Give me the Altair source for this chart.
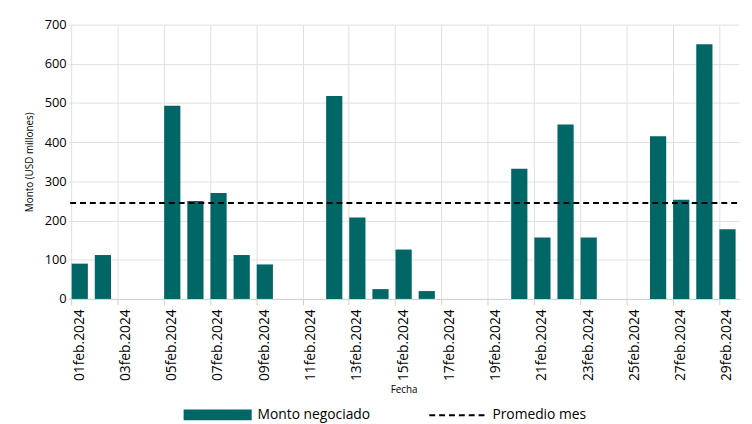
import altair as alt
import pandas as pd

days = [f"{d:02d}feb.2024" for d in range(1, 30)]
monto = [90, 112, 0, 0, 493, 250, 270, 112, 88, 0, 0, 518, 208, 25, 126, 20,
         0, 0, 0, 332, 157, 445, 157, 0, 0, 415, 253, 650, 178]
promedio = 245

df = pd.DataFrame({"Fecha": days, "Monto": monto})
df_prom = pd.DataFrame({"Monto": [promedio]})
font = "Open Sans"
teal = "#006666"

x_sc = alt.Scale(paddingInner=0.3, paddingOuter=0.15)
y_enc = alt.Y("Monto:Q", scale=alt.Scale(domain=[0, 700]),
              title="Monto (USD millones)",
              axis=alt.Axis(values=list(range(0, 701, 100)), labelOverlap=False,
                            gridColor="#e0e0e0",
                            domain=False, ticks=False, labelFontSize=13, labelColor="#000",
                            titleFontSize=10, titleFontWeight="normal", titlePadding=10))

grid = alt.Chart(df).mark_tick(opacity=0).encode(
    x=alt.X("Fecha:N", sort=days, scale=x_sc,
            axis=alt.Axis(orient="bottom", bandPosition=0, labels=False, title=None, grid=True,
                          gridColor="#e0e0e0", tickColor="#d0d0d0", tickSize=6,
                          domainColor="#d0d0d0",
                          values=[d for i, d in enumerate(days) if i % 2 == 0])),
    y=y_enc,
)

bars = alt.Chart(df).mark_bar(color=teal).encode(
    x=alt.X("Fecha:N", sort=days, scale=x_sc, title="Fecha",
            axis=alt.Axis(orient="bottom", labelAngle=-90, ticks=False, grid=False, domain=False,
                          labelExpr="parseInt(substring(datum.value,0,2)) % 2 == 1 ? datum.value : ''",
                          labelFontSize=14, labelColor="#000", labelPadding=10,
                          titleFontSize=10, titleFontWeight="normal", titlePadding=4)),
    y=y_enc,
)

line = alt.Chart(df_prom).mark_rule(color="black", strokeDash=[6, 4], strokeWidth=2).encode(
    x=alt.value(2), x2=alt.value(678),
    y=y_enc,
)

# legend entries
leg = pd.DataFrame({"k": ["Monto negociado", "Promedio mes"]})
leg_bar = alt.Chart(leg).transform_filter("datum.k=='Monto negociado'").mark_rect(color=teal).encode(
    x=alt.value(117), x2=alt.value(186), y=alt.value(390), y2=alt.value(401))
leg_bar_t = alt.Chart(leg).transform_filter("datum.k=='Monto negociado'").mark_text(
    align="left", baseline="middle", font=font, fontSize=14).encode(
    x=alt.value(192), y=alt.value(396), text="k:N")
leg_line = alt.Chart(leg).transform_filter("datum.k=='Promedio mes'").mark_rule(
    color="black", strokeDash=[6, 4], strokeWidth=2).encode(
    x=alt.value(366), x2=alt.value(422), y=alt.value(396))
leg_line_t = alt.Chart(leg).transform_filter("datum.k=='Promedio mes'").mark_text(
    align="left", baseline="middle", font=font, fontSize=14).encode(
    x=alt.value(430), y=alt.value(396), text="k:N")

chart = alt.layer(bars, grid, line, leg_bar, leg_bar_t, leg_line, leg_line_t).resolve_axis(
    x="independent").properties(width=680, height=278,
                                padding={"top": 8, "left": 16, "right": 5, "bottom": 5}
                                ).configure(font=font).configure_view(
    stroke=None).configure_axis(labelFont=font, titleFont=font)

chart.save("out.html", embed_options={"renderer": "svg", "actions": False})
